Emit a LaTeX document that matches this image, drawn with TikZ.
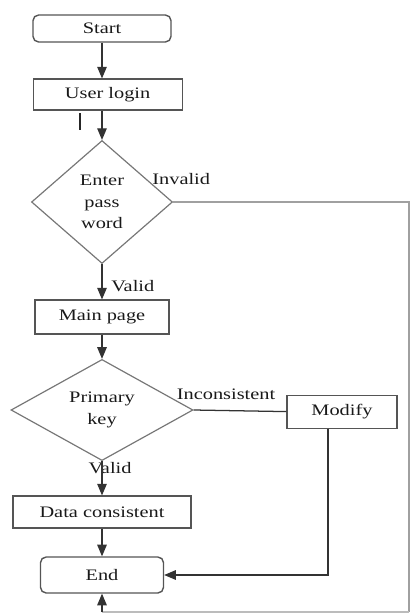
\documentclass[tikz,border=0pt]{standalone}
\usepackage{fontspec}
\setmainfont[FakeStretch=1.27]{Liberation Serif}
\usepackage{tikz}
\usetikzlibrary{shapes,arrows}
\usetikzlibrary{positioning}
\definecolor{boxgray}{HTML}{555555}
\definecolor{loopgray}{HTML}{A0A0A0}
\tikzstyle{terminal} = [draw=boxgray, rounded corners=4pt, line width=1pt,
    minimum width=3.45cm, minimum height=0.675cm, text=black!90]
\tikzstyle{process} = [draw=boxgray, rectangle, line width=0.85pt,
    minimum height=0.8cm, text=black!90]
\tikzstyle{decision} = [draw=boxgray!80, diamond, line width=0.85pt, inner sep=0pt,
    align=center, text=black!90]
\tikzstyle{lbl} = [inner sep=0pt, text=black!90]
\tikzstyle{line} = [draw=black!80, line width=0.9pt]

\begin{document}
\begin{tikzpicture}[node distance = 3cm, auto, font=\fontsize{11.4}{15.3}\selectfont]
  \useasboundingbox (0,0) rectangle (10.3,-15.35);
  \node [terminal] at (2.55,-0.7125) (st) {Start};
  \node [process, below of=st, xshift=0.14cm, node distance = 1.65cm,
    minimum width=3.725cm, minimum height=0.775cm] (ul) {User login};
  \node [decision, below of=ul, xshift=-0.14cm, node distance = 2.6875cm,
    minimum width=3.525cm, minimum height=3.075cm] (pw) {Enter\\pass\\word};
  \node [process, below of=pw, node distance = 2.875cm,
    minimum width=3.35cm, minimum height=0.85cm] (mp) {Main page};
  \node [decision, below of=mp, node distance = 2.325cm,
    minimum width=4.55cm, minimum height=2.4cm] (pk) {Primary\\key};
  \node [process, right of=pk, yshift=-0.04cm, node distance = 6cm,
    minimum width=2.75cm, minimum height=0.825cm] (md) {Modify};
  \node [process, below of=pk, node distance = 2.55cm,
    minimum width=4.45cm] (dc) {Data consistent};
  \node [terminal, below of=dc, node distance = 1.575cm,
    minimum width=3.075cm, minimum height=0.9cm] (en) {End};
  % labels
  \node [lbl, anchor=south west] at ([xshift=-0.525cm, yshift=0.42cm]pw.east) (l1) {Invalid};
  \node [lbl, anchor=west] at ([xshift=0.225cm, yshift=-0.55cm]pw.south) (l2) {Valid};
  \node [lbl, anchor=west] at ([xshift=-0.425cm, yshift=0.4cm]pk.east) (l3) {Inconsistent};
  \node [lbl] at ([xshift=0.2cm, yshift=-0.175cm]pk.south) (l4) {Valid};
  \coordinate (c1) at (10.225,-15.3);
  \coordinate (c2) at (c1 -| en.south);
  \draw [-triangle 45, line] (st.south) -- (st.south |- ul.north);
  \draw [-triangle 45, line] (st.south |- ul.south) -- (pw.north);
  \draw [line width=1.4pt, black!85] (2.0,-2.825) -- ++(0,-0.425);
  \draw [-triangle 45, line] (pw.south) -- (mp.north);
  \draw [-triangle 45, line] (mp.south) -- (pk.north);
  \draw [-triangle 45, line] (pk.south) -- (dc.north);
  \draw [-triangle 45, line] (dc.south) -- (en.north);
  \draw [line] (pk.east) -- (md.west);
  \draw [-triangle 45, line] ([xshift=-0.35cm]md.south) |- (en.east);
  \draw [loopgray, line width=0.9pt] (pw.east) -| (c1);
  \draw [loopgray!70, line width=0.9pt] (c1) -- (c2);
  \draw [-triangle 45, line] (c2) -- (en.south);
\end{tikzpicture}
\end{document}
